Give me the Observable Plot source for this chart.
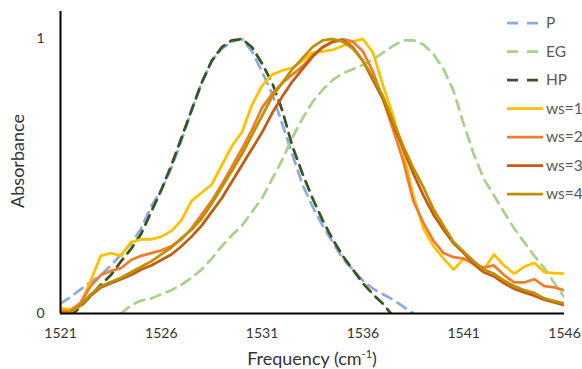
<!DOCTYPE html>
<html>
<head>
<meta charset="utf-8">
<script src="https://cdn.jsdelivr.net/npm/d3@7"></script>
<script src="https://cdn.jsdelivr.net/npm/@observablehq/plot@0.6"></script>
<style>
  html, body { margin: 0; padding: 0; background: #fff; }
  #chart { width: 582px; height: 369px; }
</style>
</head>
<body>
<div id="chart"></div>
<script>
// x positions (cm^-1)
const freq = [1521, 1521.5, 1522, 1522.5, 1523, 1523.5, 1524, 1524.5, 1525, 1525.5,
  1526, 1526.5, 1527, 1527.5, 1528, 1528.5, 1529, 1529.5, 1530, 1530.5,
  1531, 1531.5, 1532, 1532.5, 1533, 1533.5, 1534, 1534.5, 1535, 1535.5,
  1536, 1536.5, 1537, 1537.5, 1538, 1538.5, 1539, 1539.5, 1540, 1540.5,
  1541, 1541.5, 1542, 1542.5, 1543, 1543.5, 1544, 1544.5, 1545, 1545.5, 1546];

const xTicks = [1521, 1526, 1531, 1536, 1541, 1546];
const yTicks = [0, 1];

const P = [0.036, 0.06, 0.088, 0.115, 0.14, 0.175, 0.215, 0.255, 0.31, 0.39,
  0.45, 0.53, 0.63, 0.74, 0.84, 0.92, 0.965, 0.99, 1.0, 0.955,
  0.88, 0.80, 0.69, 0.58, 0.47, 0.39, 0.32, 0.26, 0.2, 0.16,
  0.12, 0.09, 0.07, 0.05, 0.025, 0.0, null, null, null, null,
  null, null, null, null, null, null, null, null, null, null, null];

const EG = [null, null, null, null, null, null, 0.0, 0.03, 0.047, 0.055,
  0.07, 0.085, 0.105, 0.13, 0.16, 0.2, 0.245, 0.285, 0.32, 0.37,
  0.42, 0.49, 0.56, 0.64, 0.71, 0.77, 0.815, 0.85, 0.875, 0.89,
  0.905, 0.925, 0.95, 0.975, 0.995, 0.995, 0.98, 0.945, 0.89, 0.81,
  0.69, 0.58, 0.49, 0.43, 0.37, 0.31, 0.26, 0.21, 0.165, 0.11, 0.058];

const HP = [null, -0.01, 0.025, 0.065, 0.105, 0.14, 0.19, 0.235, 0.29, 0.37,
  0.45, 0.54, 0.64, 0.74, 0.84, 0.92, 0.97, 0.995, 1.0, 0.97,
  0.91, 0.84, 0.74, 0.61, 0.51, 0.42, 0.34, 0.27, 0.21, 0.16,
  0.11, 0.07, 0.035, -0.01, null, null, null, null, null, null,
  null, null, null, null, null, null, null, null, null, null, null];

const ws1 = [0.02, 0.015, 0.035, 0.12, 0.21, 0.22, 0.21, 0.26, 0.27, 0.27,
  0.28, 0.30, 0.34, 0.41, 0.44, 0.47, 0.54, 0.61, 0.66, 0.76,
  0.83, 0.87, 0.885, 0.895, 0.92, 0.95, 0.955, 0.96, 0.975, 0.99,
  1.0, 0.95, 0.83, 0.72, 0.59, 0.43, 0.31, 0.245, 0.20, 0.16,
  0.20, 0.185, 0.16, 0.215, 0.175, 0.145, 0.17, 0.185, 0.15, 0.147, 0.145];

const ws2 = [0.01, 0.01, 0.04, 0.10, 0.14, 0.155, 0.165, 0.195, 0.21, 0.22,
  0.23, 0.245, 0.27, 0.31, 0.36, 0.41, 0.47, 0.535, 0.60, 0.67,
  0.75, 0.80, 0.84, 0.87, 0.90, 0.94, 0.97, 0.99, 1.0, 0.99,
  0.955, 0.88, 0.78, 0.67, 0.556, 0.41, 0.33, 0.265, 0.22, 0.205,
  0.20, 0.18, 0.167, 0.175, 0.14, 0.113, 0.113, 0.125, 0.10, 0.095, 0.084];

const ws3 = [0.0, 0.005, 0.03, 0.065, 0.095, 0.11, 0.125, 0.14, 0.16, 0.175,
  0.195, 0.215, 0.245, 0.28, 0.32, 0.37, 0.42, 0.48, 0.54, 0.60,
  0.66, 0.73, 0.79, 0.845, 0.89, 0.935, 0.97, 0.99, 0.995, 0.97,
  0.92, 0.85, 0.78, 0.69, 0.60, 0.51, 0.43, 0.36, 0.305, 0.255,
  0.22, 0.18, 0.15, 0.135, 0.11, 0.09, 0.077, 0.065, 0.05, 0.04, 0.03];

const ws4 = [0.0, 0.005, 0.03, 0.07, 0.10, 0.115, 0.13, 0.15, 0.17, 0.19,
  0.215, 0.24, 0.275, 0.305, 0.345, 0.40, 0.46, 0.52, 0.58, 0.65,
  0.72, 0.79, 0.84, 0.89, 0.93, 0.97, 0.995, 1.0, 0.99, 0.965,
  0.92, 0.86, 0.79, 0.70, 0.61, 0.53, 0.46, 0.38, 0.32, 0.26,
  0.225, 0.19, 0.16, 0.145, 0.12, 0.10, 0.085, 0.075, 0.055, 0.045, 0.036];

const seriesNames = ["P", "EG", "HP", "ws=1", "ws=2", "ws=3", "ws=4"];
const seriesValues = [P, EG, HP, ws1, ws2, ws3, ws4];
const seriesColors = ["#8FAADC", "#A9D18E", "#375623", "#FFC000", "#ED7D31", "#C55A11", "#BF9000"];
const seriesDashed = [true, true, true, false, false, false, false];

const rows = seriesNames.flatMap((name, i) =>
  freq.map((f, j) => ({series: name, freq: f, value: seriesValues[i][j]})));

const lineMarks = seriesNames.map((name, i) =>
  Plot.line(rows.filter(d => d.series === name), {
    x: "freq", y: "value",
    stroke: seriesColors[i],
    strokeWidth: 2.75,
    strokeDasharray: seriesDashed[i] ? "10,7" : null,
    strokeLinejoin: "round",
    clip: true
  }));

const chart = Plot.plot({
  width: 582,
  height: 369,
  marginLeft: 60,
  marginRight: 18,
  marginTop: 11,
  marginBottom: 56,
  style: {fontFamily: "Lato, 'Open Sans', sans-serif", fontSize: "14px", background: "#fff"},
  x: {domain: [1521, 1546]},
  y: {domain: [0, 1.1]},
  marks: [
    Plot.axisX({ticks: xTicks, tickSize: 0, tickPadding: 15, label: null, fill: "#333", tickFormat: d => String(d)}),
    Plot.axisY({ticks: yTicks, tickSize: 0, tickPadding: 16, label: null, fill: "#333", tickFormat: d => String(d)}),
    ...lineMarks,
    Plot.ruleY([0], {stroke: "#000", strokeWidth: 2}),
    Plot.ruleX([1521], {y1: 0, y2: 1.1, stroke: "#000", strokeWidth: 2})
  ]
});

document.getElementById("chart").appendChild(chart);

// axis titles and legend
const svg = d3.select(chart);
const xTitle = svg.append("text")
  .attr("x", 312).attr("y", 365)
  .attr("text-anchor", "middle")
  .attr("font-size", 18).attr("fill", "#333");
xTitle.append("tspan").text("Frequency (cm");
xTitle.append("tspan").attr("font-size", 11).attr("dy", -7).text("-1");
xTitle.append("tspan").attr("dy", 7).attr("font-size", 18).text(")");

svg.append("text")
  .attr("transform", "translate(24,161) rotate(-90)")
  .attr("text-anchor", "middle")
  .attr("font-size", 18).attr("fill", "#333")
  .text("Absorbance");

const legend = svg.append("g");
seriesNames.forEach((name, i) => {
  const y = 23 + i * 28.5;
  legend.append("line")
    .attr("x1", 507).attr("x2", 543).attr("y1", y).attr("y2", y)
    .attr("stroke", seriesColors[i]).attr("stroke-width", 2.75)
    .attr("stroke-dasharray", seriesDashed[i] ? "11,9" : null);
  legend.append("text")
    .attr("x", 546).attr("y", y).attr("dy", "0.35em")
    .attr("text-anchor", "start")
    .attr("font-size", 15.5).attr("fill", "#595959")
    .text(name);
});
</script>
</body>
</html>
